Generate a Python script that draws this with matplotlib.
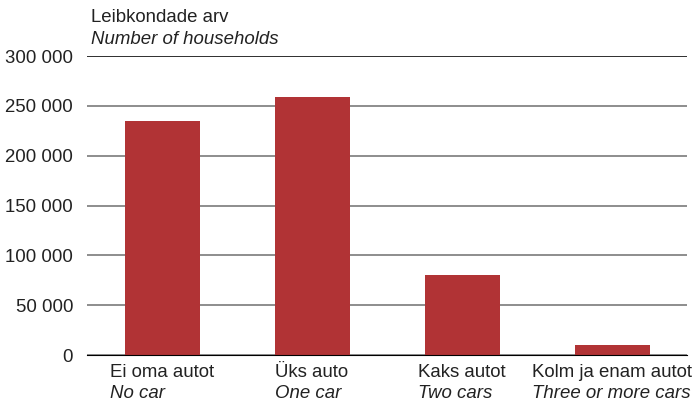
import matplotlib.pyplot as plt
from matplotlib.ticker import FuncFormatter

plt.rcParams['font.family'] = ['Liberation Sans', 'DejaVu Sans']

categories_et = ["Ei oma autot", "Üks auto", "Kaks autot", "Kolm ja enam autot"]
categories_en = ["No car", "One car", "Two cars", "Three or more cars"]
households = [235000, 259000, 80500, 10000]
y_ticks = [0, 50000, 100000, 150000, 200000, 250000, 300000]

FS = 13.4

fig = plt.figure(figsize=(7, 4.01), dpi=100)
ax = fig.add_axes([87 / 700, 46 / 401, 600 / 700, 299 / 401])

x = list(range(len(categories_et)))
ax.bar(x, households, width=0.5, color="#b13335", zorder=2)

ax.set_xlim(-0.5, len(x) - 0.5)
ax.set_ylim(0, 300000)
ax.set_yticks(y_ticks)
ax.yaxis.set_major_formatter(FuncFormatter(lambda v, p: f"{int(v):,}".replace(",", " ")))
ax.grid(axis="y", color="#7a7a7a", linewidth=1.2, zorder=1)
for s in ["top", "right", "left"]:
    ax.spines[s].set_visible(False)
ax.spines["bottom"].set_color("black")
ax.spines["bottom"].set_zorder(3)
ax.axhline(300000, color="#222222", linewidth=1.2, zorder=3)
ax.tick_params(axis="y", length=0, pad=10, labelsize=FS, labelcolor="#222222")
ax.tick_params(axis="x", length=0)
ax.set_xticks(x)
ax.set_xticklabels([])

# two-line category labels: regular top, italic below, left-aligned block centred on bar
fig.canvas.draw()
r = fig.canvas.get_renderer()
inv = ax.transData.inverted()
for i, (et, en) in enumerate(zip(categories_et, categories_en)):
    t1 = ax.text(i, -0.03, et, transform=ax.get_xaxis_transform(), ha="center", va="top",
                 fontsize=FS, color="#222222")
    bb = t1.get_window_extent(r)
    t2 = ax.text(i, -0.1, en, transform=ax.get_xaxis_transform(), ha="left", va="top",
                 fontsize=FS, style="italic", color="#222222")
    bb2 = t2.get_window_extent(r)
    w = max(bb.width, bb2.width)
    cx = ax.transData.transform((i, 0))[0]
    left = cx - w / 2
    t1.set_ha("left")
    t1.set_x(inv.transform((left, 0))[0])
    t2.set_x(inv.transform((left, 0))[0])

fig.text(91 / 700, 1 - 17 / 401, "Leibkondade arv", ha="left", va="center", fontsize=FS, color="#222222")
fig.text(91 / 700, 1 - 40 / 401, "Number of households", ha="left", va="center", fontsize=FS,
         style="italic", color="#222222")

fig.savefig("out.png", dpi=100)
